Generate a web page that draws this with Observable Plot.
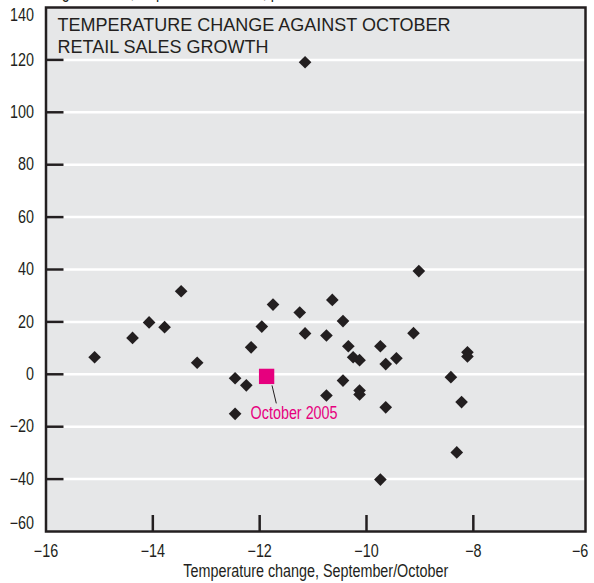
<!DOCTYPE html>
<html>
<head>
<meta charset="utf-8">
<script src="https://cdn.jsdelivr.net/npm/d3@7"></script>
<script src="https://cdn.jsdelivr.net/npm/@observablehq/plot@0.6"></script>
<style>
  html, body { margin: 0; padding: 0; background: #ffffff; }
  #chart svg { display: block; }
</style>
</head>
<body>
<div id="chart"></div>
<script>
// ---- Data ----
const tempChange = [-15.09, -14.38, -14.07, -13.78, -13.47, -13.17, -12.46, -12.46, -12.25, -12.16,
  -11.96, -11.75, -11.25, -11.15, -11.15, -10.75, -10.75, -10.64, -10.44, -10.44,
  -10.34, -10.25, -10.13, -10.13, -10.13, -9.74, -9.74, -9.64, -9.64, -9.44,
  -9.12, -9.02, -8.42, -8.31, -8.22, -8.11, -8.11];
const salesGrowth = [6.5, 13.9, 19.8, 18.0, 31.7, 4.4, -1.5, -15.1, -4.2, 10.3,
  18.2, 26.6, 23.6, 119.1, 15.6, 14.8, -8.1, 28.4, 20.3, -2.4,
  10.7, 6.5, 5.4, -6.2, -7.7, 10.7, -40.2, 3.9, -12.6, 6.1,
  15.7, 39.4, -1.1, -29.8, -10.6, 8.4, 6.8];
const highlightLabel = ["October 2005"];
const highlightTemp = [-11.87];
const highlightSales = [-0.8];
const xTicks = [-16, -14, -12, -10, -8, -6];
const yTicks = [140, 120, 100, 80, 60, 40, 20, 0, -20, -40, -60];
const titleLines = ["TEMPERATURE CHANGE AGAINST OCTOBER", "RETAIL SALES GROWTH"];
const yLabel = "Change in sales, September/October, per cent";
const xLabel = "Temperature change, September/October";

// ---- Layout / style ----
const W = 594, H = 583;
const mL = 45.5, mR = 9, mT = 7, mB = 52;
const xDomain = [-16, -5.9], yDomain = [-60, 140];
const pxX = (W - mL - mR) / (xDomain[1] - xDomain[0]);
const pxY = (H - mT - mB) / (yDomain[1] - yDomain[0]);
const dark = "#231f20", bg = "#e6e7e8", pink = "#e6007e";
const sans = "'Liberation Sans', Arial, sans-serif";
const condense = 0.82;

const points = tempChange.map((t, i) => ({t, s: salesGrowth[i]}));
const hi = highlightLabel.map((l, i) => ({label: l, t: highlightTemp[i], s: highlightSales[i]}));

const chart = Plot.plot({
  width: W, height: H,
  marginTop: mT, marginBottom: mB, marginLeft: mL, marginRight: mR,
  style: {fontFamily: sans, fontSize: "17.5px", color: dark, background: "#ffffff"},
  x: {domain: xDomain},
  y: {domain: yDomain},
  marks: [
    Plot.frame({fill: bg, stroke: null}),
    Plot.ruleY(yTicks.slice(1, -1), {stroke: "#ffffff", strokeWidth: 2.5}),
    Plot.ruleY(yTicks.slice(1, -1), {x1: xDomain[0], x2: xDomain[0] + 18 / pxX, stroke: dark, strokeWidth: 2.5}),
    Plot.ruleX(xTicks.slice(1, -1), {y1: yDomain[0], y2: yDomain[0] + 16 / pxY, stroke: dark, strokeWidth: 2.5}),
    Plot.axisY(yTicks.slice(1, -1), {tickSize: 0, tickPadding: 12, fontSize: 17.5, fill: dark, label: null}),
    Plot.axisY([yTicks[0]], {tickSize: 0, tickPadding: 12, fontSize: 17.5, fill: dark, label: null, dy: 8}),
    Plot.axisY([yTicks[yTicks.length - 1]], {tickSize: 0, tickPadding: 12, fontSize: 17.5, fill: dark, label: null, dy: -8.5}),
    Plot.axisX(xTicks, {tickSize: 0, tickPadding: 13, fontSize: 17.5, fill: dark, label: null}),
    Plot.text([xLabel], {frameAnchor: "bottom", dy: 45, fontSize: 17.5, fill: dark}),
    Plot.text([yLabel], {frameAnchor: "top-left", dx: -18.5, dy: -22, textAnchor: "start", fontSize: 17.5, fill: dark}),
    Plot.dot(points, {x: "t", y: "s", symbol: "diamond2", r: 5.7, fill: dark, stroke: null}),
    Plot.link(hi, {
      x1: d => d.t + 5.4 / pxX, y1: d => d.s - 9 / pxY,
      x2: d => d.t + 9.7 / pxX, y2: d => d.s - 27 / pxY,
      stroke: dark, strokeWidth: 1
    }),
    Plot.dot(hi, {x: "t", y: "s", symbol: "square", r: 8.65, fill: pink, stroke: null}),
    Plot.text(hi, {x: "t", y: "s", text: "label", dx: -16, dy: 37, textAnchor: "start", fill: pink, fontSize: 17.5}),
    Plot.text([titleLines.join("\n")], {frameAnchor: "top-left", dx: 11.5, dy: 8.2, lineAnchor: "top", lineHeight: 22 / 18,
      textAnchor: "start", fontSize: 18, fill: dark}),
    Plot.frame({stroke: dark, strokeWidth: 2.5})
  ]
});
document.getElementById("chart").appendChild(chart);

// Condensed (Helvetica Condensed-like) look for single-line labels; the title keeps normal width.
chart.querySelectorAll("text").forEach(t => {
  if (t.querySelector("tspan")) return;
  const len = t.getComputedTextLength();
  if (len > 0) {
    t.setAttribute("textLength", (len * condense).toFixed(2));
    t.setAttribute("lengthAdjust", "spacingAndGlyphs");
  }
});
</script>
</body>
</html>
